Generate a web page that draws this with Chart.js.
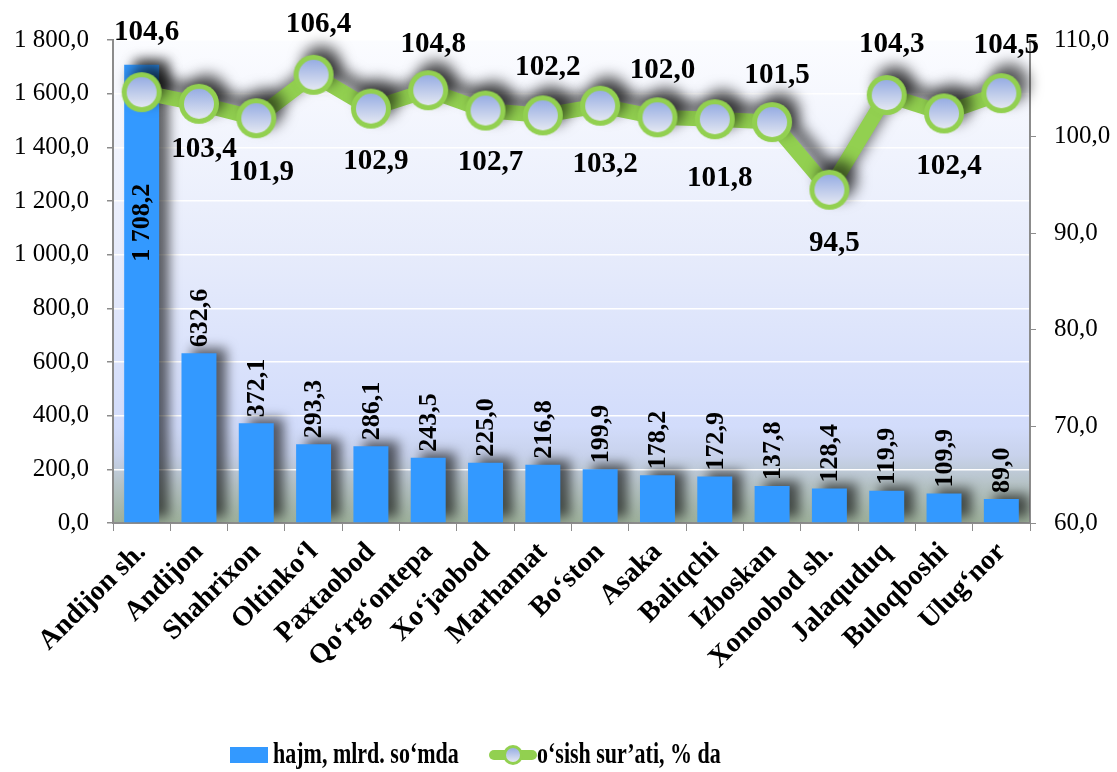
<!DOCTYPE html>
<html>
<head>
<meta charset="utf-8">
<script src="https://cdn.jsdelivr.net/npm/chart.js@4"></script>
<style>
  html, body { margin: 0; padding: 0; background: #fff; }
  #wrap { width: 1117px; height: 772px; position: relative; }
</style>
</head>
<body>
<div id="wrap"><canvas id="chart"></canvas></div>
<script>
// data
const districts = ["Andijon sh.", "Andijon", "Shahrixon", "Oltinko‘l", "Paxtaobod", "Qo‘rg‘ontepa",
  "Xo‘jaobod", "Marhamat", "Bo‘ston", "Asaka", "Baliqchi", "Izboskan", "Xonoobod sh.",
  "Jalaquduq", "Buloqboshi", "Ulug‘nor"];
const volume = [1708.2, 632.6, 372.1, 293.3, 286.1, 243.5, 225.0, 216.8, 199.9, 178.2, 172.9, 137.8, 128.4, 119.9, 109.9, 89.0];
const growth = [104.6, 103.4, 101.9, 106.4, 102.9, 104.8, 102.7, 102.2, 103.2, 102.0, 101.8, 101.5, 94.5, 104.3, 102.4, 104.5];
const volumeLabel = "hajm, mlrd. so‘mda";
const growthLabel = "o‘sish sur’ati, % da";

const FONT = "'Liberation Serif', 'Times New Roman', serif";
const BLUE = "#3399ff";
const GREEN = "#92d050";

// where each growth label sits relative to its point (px, negative = above)
const growthLabelDy = [-60, 46, 54, -50, 53, -46, 52, -48, 59, -47, 59, -47, 54, -51, 53, -48];

// number like "1 708,2"
function fmt(v) {
  const parts = Math.abs(v).toFixed(1).split(".");
  const int = parts[0].replace(/\B(?=(\d{3})+(?!\d))/g, " ");
  return (v < 0 ? "-" : "") + int + "," + parts[1];
}

// circle marker with green ring and bluish gradient inside
function makeMarker(r, ring) {
  const c = document.createElement("canvas");
  c.width = c.height = r * 2 + 2;
  const g = c.getContext("2d");
  const m = r + 1;
  g.beginPath();
  g.arc(m, m, r, 0, Math.PI * 2);
  g.fillStyle = GREEN;
  g.fill();
  const gr = g.createLinearGradient(0, m - r + ring, 0, m + r - ring);
  gr.addColorStop(0, "#97ade3");
  gr.addColorStop(1, "#e4e8f2");
  g.beginPath();
  g.arc(m, m, r - ring, 0, Math.PI * 2);
  g.fillStyle = gr;
  g.fill();
  return c;
}
const marker = makeMarker(20, 5);
const smallMarker = makeMarker(10, 3);

const plotBackground = {
  id: "plotBackground",
  beforeDraw(chart) {
    const { ctx, chartArea: a } = chart;
    const gr = ctx.createLinearGradient(0, a.top, 0, a.bottom);
    gr.addColorStop(0, "#fbfcff");
    gr.addColorStop(0.45, "#e6ebfb");
    gr.addColorStop(0.8, "#d2dcfb");
    gr.addColorStop(0.86, "#c8d2ec");
    gr.addColorStop(0.92, "#b6c3c6");
    gr.addColorStop(1, "#9db09a");
    ctx.save();
    ctx.fillStyle = gr;
    ctx.fillRect(a.left, a.top, a.right - a.left, a.bottom - a.top);
    ctx.restore();
  }
};

// soft shadows behind bars and the line
const shadows = {
  id: "shadows",
  beforeDatasetDraw(chart, args) {
    const ctx = chart.ctx;
    ctx.save();
    if (args.meta.type === "bar") {
      ctx.shadowColor = "rgba(0,0,0,0.6)";
      ctx.shadowBlur = 12;
      ctx.shadowOffsetX = 10;
      ctx.shadowOffsetY = -5;
    } else {
      ctx.shadowColor = "rgba(0,0,0,0.6)";
      ctx.shadowBlur = 14;
      ctx.shadowOffsetX = 8;
      ctx.shadowOffsetY = -10;
    }
  },
  afterDatasetDraw(chart) {
    chart.ctx.restore();
  }
};

const valueLabels = {
  id: "valueLabels",
  afterDatasetsDraw(chart) {
    const ctx = chart.ctx;
    ctx.save();
    ctx.fillStyle = "#000";

    // bar values, turned upright
    const bars = chart.getDatasetMeta(1).data;
    ctx.font = "bold 26px " + FONT;
    ctx.textBaseline = "middle";
    ctx.textAlign = "left";
    bars.forEach((bar, i) => {
      const y0 = i === 0 ? bar.y + 197 : bar.y - 6;
      ctx.save();
      ctx.translate(bar.x + 1, y0);
      ctx.rotate(-Math.PI / 2);
      ctx.fillText(fmt(volume[i]), 0, 0);
      ctx.restore();
    });

    // growth values
    const pts = chart.getDatasetMeta(0).data;
    ctx.font = "bold 28px " + FONT;
    ctx.textAlign = "center";
    pts.forEach((p, i) => {
      ctx.save();
      ctx.translate(p.x + 5, p.y + growthLabelDy[i]);
      ctx.scale(1.04, 1.06);
      ctx.fillText(fmt(growth[i]), 0, 0);
      ctx.restore();
    });
    ctx.restore();
  }
};

const bottomLegend = {
  id: "bottomLegend",
  afterDraw(chart) {
    const ctx = chart.ctx;
    const cy = 755;
    ctx.save();
    ctx.font = "bold 22px " + FONT;
    ctx.textBaseline = "middle";
    ctx.textAlign = "left";
    ctx.fillStyle = BLUE;
    ctx.fillRect(230, cy - 8, 38, 16);
    ctx.fillStyle = "#000";
    ctx.save();
    ctx.translate(273, cy + 1);
    ctx.scale(1, 1.3);
    ctx.fillText(volumeLabel, 0, 0);
    ctx.restore();

    ctx.strokeStyle = GREEN;
    ctx.lineWidth = 10;
    ctx.lineCap = "round";
    ctx.beginPath();
    ctx.moveTo(494, cy);
    ctx.lineTo(532, cy);
    ctx.stroke();
    ctx.drawImage(smallMarker, 513 - 11, cy - 11);
    ctx.fillStyle = "#000";
    ctx.save();
    ctx.translate(537, cy + 1);
    ctx.scale(1, 1.3);
    ctx.fillText(growthLabel, 0, 0);
    ctx.restore();
    ctx.restore();
  }
};

new Chart(document.getElementById("chart"), {
  data: {
    labels: districts,
    datasets: [
      {
        type: "line",
        label: growthLabel,
        data: growth,
        yAxisID: "y1",
        order: 0,
        borderColor: GREEN,
        borderWidth: 15,
        tension: 0,
        pointStyle: marker,
        pointRadius: 20,
        clip: false
      },
      {
        type: "bar",
        label: volumeLabel,
        data: volume,
        yAxisID: "y",
        order: 1,
        backgroundColor: BLUE,
        barPercentage: 0.61,
        categoryPercentage: 1
      }
    ]
  },
  options: {
    responsive: true,
    maintainAspectRatio: false,
    animation: false,
    layout: { padding: { top: 40, left: 0, right: 0, bottom: 0 } },
    plugins: {
      legend: { display: false },
      tooltip: { enabled: false }
    },
    scales: {
      x: {
        afterFit: (s) => { s.height = 249; },
        grid: { offset: true, drawOnChartArea: false, tickColor: "#8c8c8c", tickLength: 8 },
        border: { color: "#8c8c8c", width: 2 },
        ticks: {
          autoSkip: false,
          minRotation: 45,
          maxRotation: 45,
          padding: 5,
          color: "#000",
          font: { family: FONT, size: 28, weight: "bold" }
        }
      },
      y: {
        position: "left",
        min: 0,
        max: 1800,
        afterFit: (s) => { s.width = 113; },
        grid: { color: "#ffffff", lineWidth: 1.5, tickColor: "#8c8c8c", tickLength: 6 },
        border: { color: "#8c8c8c", width: 2 },
        ticks: {
          stepSize: 200,
          padding: 18,
          color: "#000",
          font: { family: FONT, size: 25 },
          callback: (v) => fmt(v)
        }
      },
      y1: {
        position: "right",
        min: 60,
        max: 110,
        afterFit: (s) => { s.width = 87; },
        grid: { drawOnChartArea: false, tickColor: "#8c8c8c", tickLength: 6 },
        border: { color: "#8c8c8c", width: 2 },
        ticks: {
          stepSize: 10,
          padding: 18,
          color: "#000",
          font: { family: FONT, size: 25 },
          callback: (v) => fmt(v)
        }
      }
    }
  },
  plugins: [plotBackground, shadows, valueLabels, bottomLegend]
});
</script>
</body>
</html>
